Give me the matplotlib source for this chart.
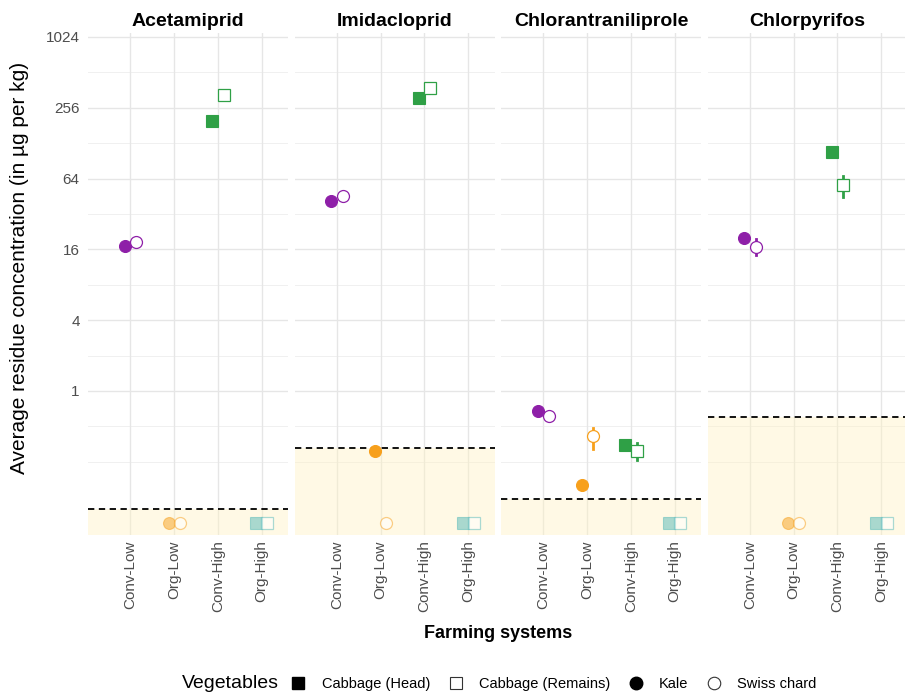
import numpy as np
import matplotlib.pyplot as plt
from matplotlib.lines import Line2D

plt.rcParams['font.family'] = ['Liberation Sans', 'DejaVu Sans']

pesticides = ["Acetamiprid", "Imidacloprid", "Chlorantraniliprole", "Chlorpyrifos"]
systems = ["Conv-Low", "Org-Low", "Conv-High", "Org-High"]
system_colors = ["#8E1FA8", "#F7A01C", "#2FA046", "#55B9B9"]

# limit of detection per pesticide (ug/kg)
lod = [0.10, 0.33, 0.12, 0.60]

nan = np.nan
# Kale (low-input) / Cabbage head (high-input); nan = below LOD
solid_mean = [
    [17.1, nan, 198, nan],
    [41.0, 0.31, 310, nan],
    [0.68, 0.16, 0.35, nan],
    [20.0, nan, 108, nan],
]
# Swiss chard (low-input) / Cabbage remains (high-input)
open_mean = [
    [18.5, nan, 329, nan],
    [45.0, nan, 377, nan],
    [0.61, 0.41, 0.31, nan],
    [16.8, nan, 56.5, nan],
]
open_low = [
    [nan, nan, nan, nan],
    [nan, nan, nan, nan],
    [nan, 0.32, 0.26, nan],
    [14.2, nan, 44.7, nan],
]
open_high = [
    [nan, nan, nan, nan],
    [nan, nan, nan, nan],
    [nan, 0.485, 0.36, nan],
    [19.5, nan, 67.0, nan],
]

# where non-detects are drawn
below_lod_y = 0.075

y_major = [1, 4, 16, 64, 256, 1024]
y_minor = [0.25, 0.5, 2, 8, 32, 128, 512]

W, H = 905, 694
fig = plt.figure(figsize=(W / 100, H / 100), dpi=100)

panel_top, panel_bottom = 33, 535
panel_w, step, left0 = 200, 206.5, 88
dodge = 0.13


def point(ax, x, y, marker, color, filled, faded):
    a = 0.5 if faded else 1.0
    ms = 8.6 if marker == 'o' else 8.2
    if filled:
        ax.plot(x, y, marker=marker, ms=ms, mfc=color,
                mec=color, mew=0.8, alpha=a, ls='none', zorder=5)
    else:
        ax.plot(x, y, marker=marker, ms=ms, mfc='white',
                mec=color, mew=0.9, alpha=a, ls='none', zorder=5)


for i, name in enumerate(pesticides):
    left = left0 + i * step
    ax = fig.add_axes([left / W, (H - panel_bottom) / H, panel_w / W,
                       (panel_bottom - panel_top) / H])
    ax.set_yscale('log', base=2)
    ax.set_ylim(2 ** -4.07, 2 ** 10.11)
    ax.set_xlim(-0.97, 3.6)

    for v in y_minor:
        ax.axhline(v, color='#F0F0F0', lw=0.7, zorder=0)
    for v in y_major:
        ax.axhline(v, color='#E6E6E6', lw=1.0, zorder=0)
    for j in range(len(systems)):
        ax.axvline(j, color='#E6E6E6', lw=1.0, zorder=0)

    ax.axhspan(2 ** -5, lod[i], color='#FFF2C2', alpha=0.42, lw=0, zorder=1)
    ax.axhline(lod[i], color='black', ls=(0, (3.5, 2.5)), lw=1.3, zorder=2)

    for j, sysname in enumerate(systems):
        marker = 'o' if j < 2 else 's'
        c = system_colors[j]
        lo, hi = open_low[i][j], open_high[i][j]
        if not np.isnan(lo):
            ax.plot([j + dodge, j + dodge], [lo, hi], color=c, lw=2.0, zorder=4)
        s = solid_mean[i][j]
        o = open_mean[i][j]
        point(ax, j - dodge, below_lod_y if np.isnan(s) else s, marker, c, True, np.isnan(s))
        point(ax, j + dodge, below_lod_y if np.isnan(o) else o, marker, c, False, np.isnan(o))

    for sp in ax.spines.values():
        sp.set_visible(False)
    ax.set_xticks(range(len(systems)))
    ax.set_xticklabels(systems, rotation=90, ha='center', va='top',
                       fontsize=11, color='#4D4D4D')
    ax.tick_params(axis='both', length=0)
    ax.tick_params(axis='x', pad=4)
    ax.set_yticks(y_major)
    ax.yaxis.set_minor_locator(plt.NullLocator())
    if i == 0:
        ax.set_yticklabels([str(v) for v in y_major], fontsize=11, color='#4D4D4D')
        ax.tick_params(axis='y', pad=6)
    else:
        ax.set_yticklabels([])
    ax.text(0.5, (panel_bottom - 21) / (panel_bottom - panel_top), name,
            transform=ax.transAxes, ha='center', va='center',
            fontsize=14, fontweight='bold')

fig.text((left0 + (3 * step + panel_w) / 2) / W, 1 - 633 / H, "Farming systems",
         ha='center', va='center', fontsize=13, fontweight='bold')
fig.text(20 / W, 1 - 268 / H, "Average residue concentration (in µg per kg)",
         rotation=90, ha='center', va='center', fontsize=15)

fig.text(182 / W, 1 - 684 / H, "Vegetables", ha='left', va='center', fontsize=14)
handles = [
    Line2D([], [], marker='s', ls='none', ms=9, mfc='black', mec='black'),
    Line2D([], [], marker='s', ls='none', ms=9, mfc='white', mec='#333333', mew=0.8),
    Line2D([], [], marker='o', ls='none', ms=9, mfc='black', mec='black'),
    Line2D([], [], marker='o', ls='none', ms=9, mfc='white', mec='#333333', mew=0.8),
]
labels = ["Cabbage (Head)", "Cabbage (Remains)", "Kale", "Swiss chard"]
fig.legend(handles, labels, loc='center left', bbox_to_anchor=(291 / W, 1 - 684 / H),
           ncol=4, frameon=False, fontsize=10.5, handlelength=1.0,
           handletextpad=1.1, columnspacing=1.25, borderaxespad=0, borderpad=0)

fig.savefig('out.png', dpi=100)
